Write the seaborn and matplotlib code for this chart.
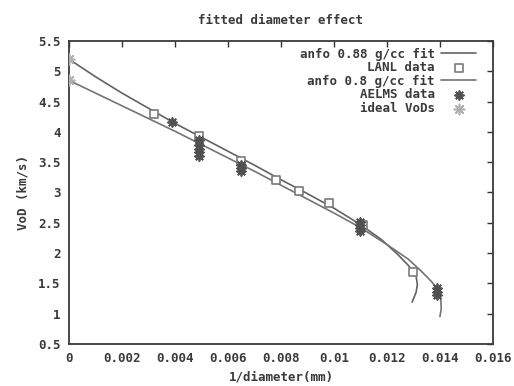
import matplotlib
matplotlib.use("Agg")
import matplotlib.pyplot as plt
import seaborn as sns
import pandas as pd

# ---- data ----
fit088_x = [0.0, 0.001, 0.002, 0.003, 0.004, 0.005, 0.006, 0.007, 0.008, 0.009,
            0.010, 0.011, 0.0118, 0.0124, 0.0128, 0.0131, 0.01315, 0.0131, 0.01295]
fit088_v = [5.20, 4.91, 4.64, 4.39, 4.14, 3.91, 3.68, 3.45, 3.21, 2.98,
            2.74, 2.47, 2.22, 1.98, 1.80, 1.62, 1.48, 1.35, 1.19]

fit08_x = [0.0, 0.001, 0.002, 0.003, 0.004, 0.005, 0.006, 0.007, 0.008, 0.009,
           0.010, 0.011, 0.012, 0.0128, 0.0133, 0.0137, 0.0139, 0.01403, 0.01405, 0.0140]
fit08_v = [4.85, 4.64, 4.43, 4.22, 4.01, 3.79, 3.57, 3.35, 3.12, 2.89,
           2.66, 2.42, 2.14, 1.90, 1.70, 1.52, 1.40, 1.25, 1.08, 0.95]

lanl_x = [0.0032, 0.0049, 0.0065, 0.0078, 0.0087, 0.0098, 0.0111, 0.0130]
lanl_v = [4.30, 3.93, 3.52, 3.21, 3.02, 2.82, 2.46, 1.69]

aelms_x = [0.0039, 0.0049, 0.0049, 0.0049, 0.0049, 0.0049, 0.0065, 0.0065, 0.0065,
           0.0110, 0.0110, 0.0110, 0.0110, 0.0139, 0.0139, 0.0139]
aelms_v = [4.16, 3.86, 3.79, 3.72, 3.66, 3.60, 3.46, 3.40, 3.35,
           2.52, 2.46, 2.41, 2.36, 1.42, 1.36, 1.30]

ideal_x = [0.0, 0.0]
ideal_v = [5.20, 4.85]

xticks = [0, 0.002, 0.004, 0.006, 0.008, 0.01, 0.012, 0.014, 0.016]
xticklabels = ["0", "0.002", "0.004", "0.006", "0.008", "0.01", "0.012", "0.014", "0.016"]
yticks = [0.5, 1, 1.5, 2, 2.5, 3, 3.5, 4, 4.5, 5, 5.5]
yticklabels = ["0.5", "1", "1.5", "2", "2.5", "3", "3.5", "4", "4.5", "5", "5.5"]

# ---- plot ----
sns.set_style("white")
plt.rcParams["font.family"] = ["DejaVu Sans Mono"]
plt.rcParams["font.weight"] = "bold"

fig = plt.figure(figsize=(5.14, 3.86), dpi=100)
ax = fig.add_axes([0.134, 0.109, 0.825, 0.785])

df088 = pd.DataFrame({"x": fit088_x, "v": fit088_v})
df08 = pd.DataFrame({"x": fit08_x, "v": fit08_v})
sns.lineplot(data=df088, x="x", y="v", sort=False, estimator=None, ax=ax,
             color="#626262", lw=1.2, label="anfo 0.88 g/cc fit")
sns.scatterplot(x=lanl_x, y=lanl_v, ax=ax, marker="s", s=32, facecolor="white",
                edgecolor="#7a7a7a", linewidth=1.2, label="LANL data", zorder=3)
sns.lineplot(data=df08, x="x", y="v", sort=False, estimator=None, ax=ax,
             color="#747474", lw=1.2, label="anfo 0.8 g/cc fit")
sns.scatterplot(x=aelms_x, y=aelms_v, ax=ax, marker=(8, 2, 0), s=40, color="#505050",
                edgecolor="#505050", linewidth=1.3, label="AELMS data", zorder=4)
sns.scatterplot(x=ideal_x, y=ideal_v, ax=ax, marker=(8, 2, 0), s=55, color="#b0b0b0",
                edgecolor="#b0b0b0", linewidth=1.2, label="ideal VoDs", zorder=4)

ax.set_xlim(0, 0.016)
ax.set_ylim(0.5, 5.5)
ax.set_xticks(xticks)
ax.set_xticklabels(xticklabels)
ax.set_yticks(yticks)
ax.set_yticklabels(yticklabels)
ax.tick_params(direction="in", length=4, width=1, colors="#333333", labelsize=9,
               top=True, right=True, pad=6)
for lab in ax.get_xticklabels() + ax.get_yticklabels():
    lab.set_color("#3a3a3a")
    lab.set_fontweight("bold")
for sp in ax.spines.values():
    sp.set_color("#3a3a3a")
    sp.set_linewidth(1.3)

ax.set_xlabel("1/diameter(mm)", fontsize=9, fontweight="bold", color="#3a3a3a", labelpad=4)
ax.set_ylabel("VoD (km/s)", fontsize=9, fontweight="bold", color="#3a3a3a", labelpad=6)
ax.set_title("fitted diameter effect", fontsize=9, fontweight="bold", color="#3a3a3a", pad=12)

leg = ax.legend(loc="upper right", bbox_to_anchor=(0.972, 0.995), markerfirst=False,
                frameon=False, fontsize=9, handlelength=2.8, labelspacing=0.05,
                handletextpad=0.5, borderaxespad=0)
for t in leg.get_texts():
    t.set_color("#3a3a3a")
    t.set_fontweight("bold")

fig.savefig("out.png", dpi=100, facecolor="white")
